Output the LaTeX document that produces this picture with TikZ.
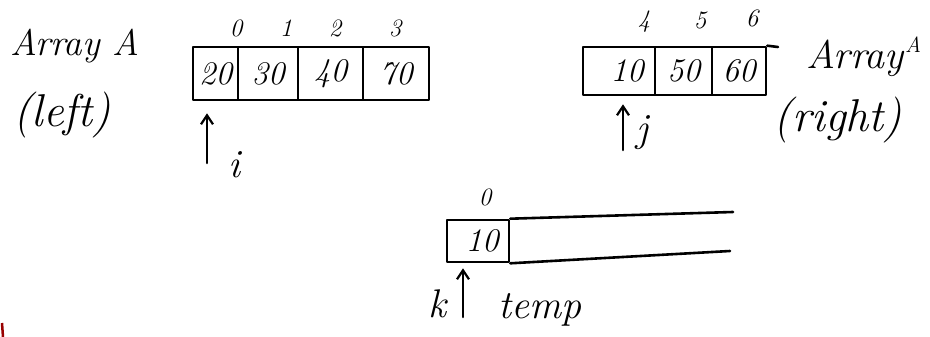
\documentclass[tikz,border=0pt]{standalone}
\usetikzlibrary{arrows.meta}
\begin{document}
\begin{tikzpicture}[x=1pt,y=-1pt,
  ink/.style={line width=2.6pt, line cap=round, line join=round},
  cell/.style={draw, ink, inner sep=0pt, font=\fontsize{33}{36}\selectfont\itshape},
  idx/.style={inner sep=0pt, font=\fontsize{25}{28}\selectfont\itshape},
  lbl/.style={inner sep=0pt, font=\fontsize{40}{46}\selectfont\itshape},
  side/.style={inner sep=0pt, font=\fontsize{46}{52}\selectfont\itshape},
  sup/.style={inner sep=0pt, font=\fontsize{22}{26}\selectfont\itshape},
  ptr/.style={ink, -{Straight Barb[length=9pt,width=12pt,line width=2.2pt]}}]
\useasboundingbox (0,0) rectangle (930,337);

% left half of array A
\node[cell, minimum width=45pt, minimum height=53pt] (l0) at (215.5,73.5) {20};
\node[cell, minimum width=60pt, minimum height=53pt] (l1) at (268,73.5) {30};
\node[cell, minimum width=65pt, minimum height=53pt] (l2) at (330.5,73.5) {40};
\node[cell, minimum width=66pt, minimum height=53pt] (l3) at (396,73.5) {70};
\node[idx] (li0) at (236,28) {0};
\node[idx] (li1) at (286,28) {1};
\node[idx] (li2) at (335,28) {2};
\node[idx] (li3) at (395,28) {3};
\node[lbl, anchor=west, font=\fontsize{37}{42}\selectfont\itshape] (lname) at (10,46) {Array A};
\node[side] (lside) at (62,115) {(left)};
\coordinate (itail) at (207,163);
\draw[ptr, shorten >=12pt] (itail) -- (itail |- l0.south);
\node[lbl, anchor=base west] (ilbl) at (228,177) {i};

% right half of array A
\node[cell, minimum width=72pt, minimum height=48pt] (r0) at (619,71) {\hspace*{16pt}10};
\node[cell, minimum width=57pt, minimum height=48pt] (r1) at (683.5,71) {50};
\node[cell, minimum width=54pt, minimum height=48pt] (r2) at (739,71) {60};
\coordinate (rtopend) at (778,47);
\draw[ink] (r2.north east) -- (rtopend);
\node[idx] (ri4) at (644,22) {4};
\node[idx] (ri5) at (700,20) {5};
\node[idx] (ri6) at (752,18) {6};
\node[lbl] (rname) at (855,58) {Array};
\node[sup] (rnameA) at (913,45) {A};
\node[side] (rside) at (838,120) {(right)};
\coordinate (jtail) at (623,150);
\draw[ptr, shorten >=8pt] (jtail) -- (jtail |- r0.south);
\node[lbl, anchor=base west] (jlbl) at (636,141) {j};

% temp array
\node[cell, minimum width=62pt, minimum height=42pt] (t0) at (478,241) {\hspace*{8pt}10};
\coordinate (ttopend) at (733,212);
\coordinate (tbotend) at (730,251);
\draw[ink] (t0.north east) -- (ttopend);
\draw[ink] (t0.south east) -- (tbotend);
\node[idx] (ti0) at (485,197) {0};
\coordinate (ktail) at (463,317);
\draw[ptr, shorten >=5pt] (ktail) -- (ktail |- t0.south);
\node[lbl, anchor=base west] (klbl) at (428,317) {k};
\node[lbl, anchor=base west] (tlbl) at (498,318) {temp};

% stray red pen stroke at the lower edge
\draw[line width=2.5pt, color=red!60!black] (2,323) -- (3,337);
\end{tikzpicture}
\end{document}
